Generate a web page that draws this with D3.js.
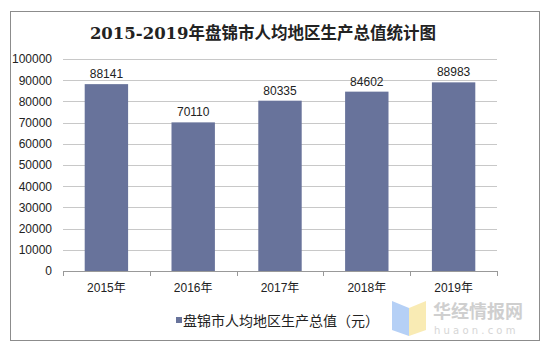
<!DOCTYPE html>
<html>
<head>
<meta charset="utf-8">
<script src="https://cdn.jsdelivr.net/npm/d3@7"></script>
<style>
  body { margin: 0; background: #fff; }
</style>
</head>
<body>
<div id="chart"></div>
<script>
const years = ["2015年", "2016年", "2017年", "2018年", "2019年"];
const gdpPerCapita = [88141, 70110, 80335, 84602, 88983];
const yTicks = [0, 10000, 20000, 30000, 40000, 50000, 60000, 70000, 80000, 90000, 100000];
const seriesName = "盘锦市人均地区生产总值（元）";
const title = "2015-2019年盘锦市人均地区生产总值统计图";

(function() {
  const width = 549;
  const height = 352;
  const margin = { top: 59, right: 52, bottom: 81, left: 63 };
  const font = "'Liberation Sans', Arial, 'Noto Sans CJK SC', sans-serif";

  const svg = d3.select("#chart")
    .append("svg")
    .attr("width", width)
    .attr("height", height);

  // outer frame
  svg.append("rect")
    .attr("x", 10.5).attr("y", 11.5)
    .attr("width", 529).attr("height", 329)
    .attr("fill", "#fff")
    .attr("stroke", "#8c8c8c");

  svg.append("text")
    .attr("x", 263).attr("y", 39)
    .attr("text-anchor", "middle")
    .style("font-family", "'DejaVu Serif', 'Noto Sans CJK SC', serif")
    .style("font-weight", "bold")
    .style("font-size", "16.5px")
    .style("fill", "#222")
    .text(title);

  const x = d3.scaleBand()
    .domain(years)
    .range([margin.left, width - margin.right])
    .paddingInner(0.5)
    .paddingOuter(0.25);

  const y = d3.scaleLinear()
    .domain([0, 100000])
    .range([height - margin.bottom, margin.top]);

  // gridlines
  svg.append("g")
    .selectAll("line")
    .data(yTicks.slice(1))
    .join("line")
    .attr("x1", margin.left).attr("x2", width - margin.right)
    .attr("y1", d => Math.round(y(d)) + 0.5)
    .attr("y2", d => Math.round(y(d)) + 0.5)
    .attr("stroke", "#c8c8c8");

  // y tick labels
  const yAxis = svg.append("g")
    .attr("transform", `translate(${margin.left},0)`)
    .call(d3.axisLeft(y).tickValues(yTicks).tickSize(0).tickPadding(11).tickFormat(d3.format("d")));
  yAxis.select(".domain").remove();
  yAxis.selectAll("text")
    .style("font-family", font)
    .style("font-size", "12px")
    .style("fill", "#222");

  // bars
  svg.selectAll("rect.bar")
    .data(gdpPerCapita)
    .join("rect")
    .attr("class", "bar")
    .attr("x", (d, i) => x(years[i]))
    .attr("y", d => y(d))
    .attr("width", x.bandwidth())
    .attr("height", d => y(0) - y(d))
    .attr("fill", "#68739b");

  // value labels
  svg.selectAll("text.lbl")
    .data(gdpPerCapita)
    .join("text")
    .attr("class", "lbl")
    .attr("x", (d, i) => x(years[i]) + x.bandwidth() / 2)
    .attr("y", d => y(d) - 6)
    .attr("text-anchor", "middle")
    .style("font-family", font)
    .style("font-size", "12px")
    .style("fill", "#222")
    .text(d => d);

  // x axis with category boundary ticks
  const x0 = height - margin.bottom;
  svg.append("line")
    .attr("x1", margin.left).attr("x2", width - margin.right)
    .attr("y1", x0 + 0.5).attr("y2", x0 + 0.5)
    .attr("stroke", "#999");
  const bounds = d3.range(years.length + 1).map(i => margin.left + i * (width - margin.left - margin.right) / years.length);
  svg.append("g")
    .selectAll("line")
    .data(bounds)
    .join("line")
    .attr("x1", d => Math.round(d) + 0.5).attr("x2", d => Math.round(d) + 0.5)
    .attr("y1", x0).attr("y2", x0 + 5)
    .attr("stroke", "#999");

  svg.append("g")
    .selectAll("text")
    .data(years)
    .join("text")
    .attr("x", d => x(d) + x.bandwidth() / 2)
    .attr("y", x0 + 21)
    .attr("text-anchor", "middle")
    .style("font-family", font)
    .style("font-size", "12px")
    .style("fill", "#222")
    .text(d => d);

  // legend
  svg.append("rect")
    .attr("x", 176).attr("y", 317)
    .attr("width", 6).attr("height", 6)
    .attr("fill", "#68739b");
  svg.append("text")
    .attr("x", 183).attr("y", 326)
    .style("font-family", "'Noto Sans CJK SC', sans-serif")
    .style("font-size", "14px")
    .style("fill", "#222")
    .text(seriesName);

  // watermark
  const wm = svg.append("g").attr("opacity", 0.85);
  wm.append("path")
    .attr("d", "M392,301 L409,308 L409,336 L392,330 Z")
    .attr("fill", "#a9c8f5");
  wm.append("path")
    .attr("d", "M409,308 L426,301 L426,330 L409,336 Z")
    .attr("fill", "#f9e8a8");
  wm.append("text")
    .attr("x", 433).attr("y", 318)
    .style("font-family", "'Noto Sans CJK SC', sans-serif")
    .style("font-weight", "bold")
    .style("font-size", "18px")
    .style("fill", "#c7c7c7")
    .text("华经情报网");
  wm.append("text")
    .attr("x", 434).attr("y", 334)
    .style("font-family", "'DejaVu Sans', sans-serif")
    .style("font-size", "10px")
    .style("letter-spacing", "3.2px")
    .style("fill", "#cfcfcf")
    .text("huaon.com");
})();
</script>
</body>
</html>
